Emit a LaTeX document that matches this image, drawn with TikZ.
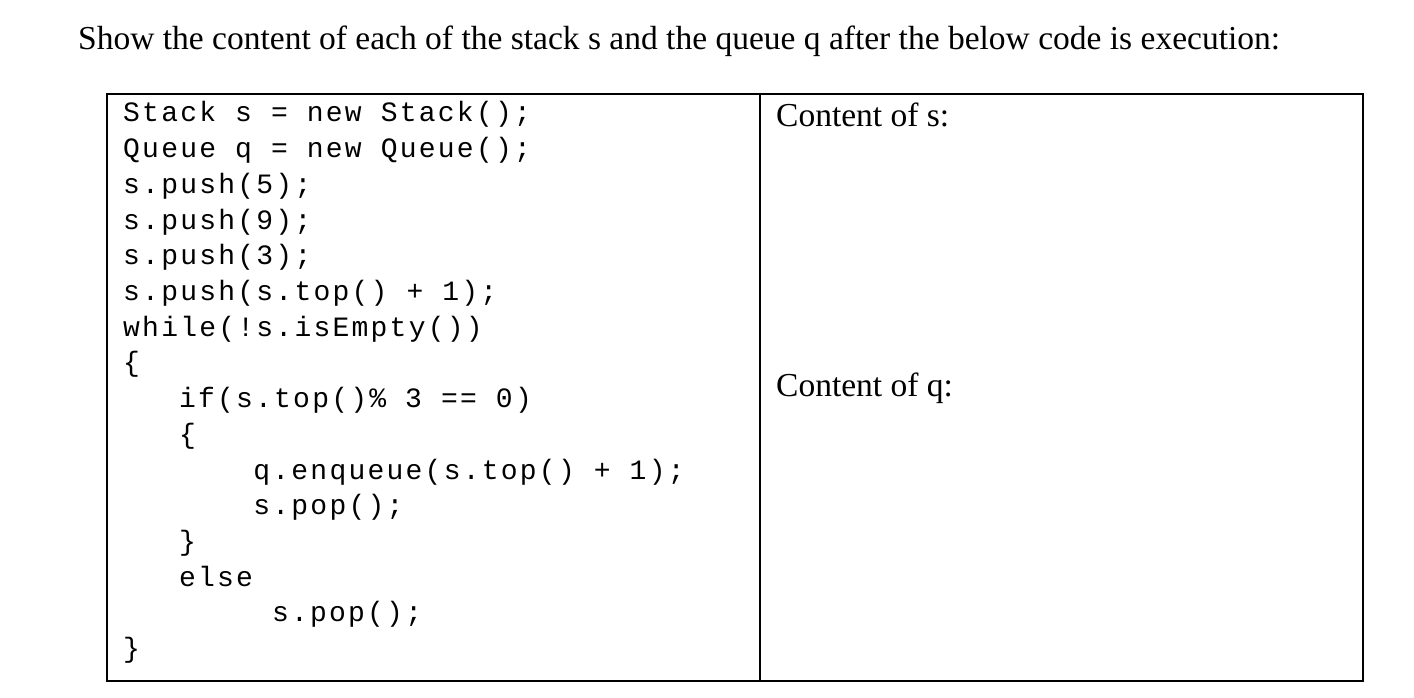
\documentclass[tikz,border=0pt]{standalone}
\usepackage{fontspec}
\setmainfont{Liberation Serif}
\setmonofont{Liberation Mono}[LetterSpace=8]
\begin{document}
\begin{tikzpicture}[x=1pt,y=-1pt,
  code/.style={anchor=base west,inner sep=0pt,font=\ttfamily\fontsize{28}{28}\selectfont},
  txt/.style={anchor=base west,inner sep=0pt,font=\fontsize{33.5}{33.5}\selectfont},
  box/.style={line width=1.4pt}]
\useasboundingbox (0,0) rectangle (1414,698);
\node[txt] (title) at (78,50) {Show the content of each of the stack s and the queue q after the below code is execution:};
\draw[box] (107,94) rectangle (1363,681);
\coordinate (dt) at (760,94);
\coordinate (db) at (760,681);
\draw[box] (dt) -- (db);
\def\cw{18.6}
\def\ls{35.7}
\foreach \t/\ind [count=\i from 0] in {
 {Stack s = new Stack();}/0,
 {Queue q = new Queue();}/0,
 {s.push(5);}/0,
 {s.push(9);}/0,
 {s.push(3);}/0,
 {s.push(s.top() + 1);}/0,
 {while(!s.isEmpty())}/0,
 {\{}/0,
 {if(s.top()\% 3 == 0)}/3,
 {\{}/3,
 {q.enqueue(s.top() + 1);}/7,
 {s.pop();}/7,
 {\}}/3,
 {else}/3,
 {s.pop();}/8,
 {\}}/0}
 \node[code] (c\i) at ({123+\ind*\cw},{122+\i*\ls}) {\t};
\node[txt] (cs) at (776,127) {Content of s:};
\node[txt] (cq) at (776,396) {Content of q:};
\end{tikzpicture}
\end{document}
